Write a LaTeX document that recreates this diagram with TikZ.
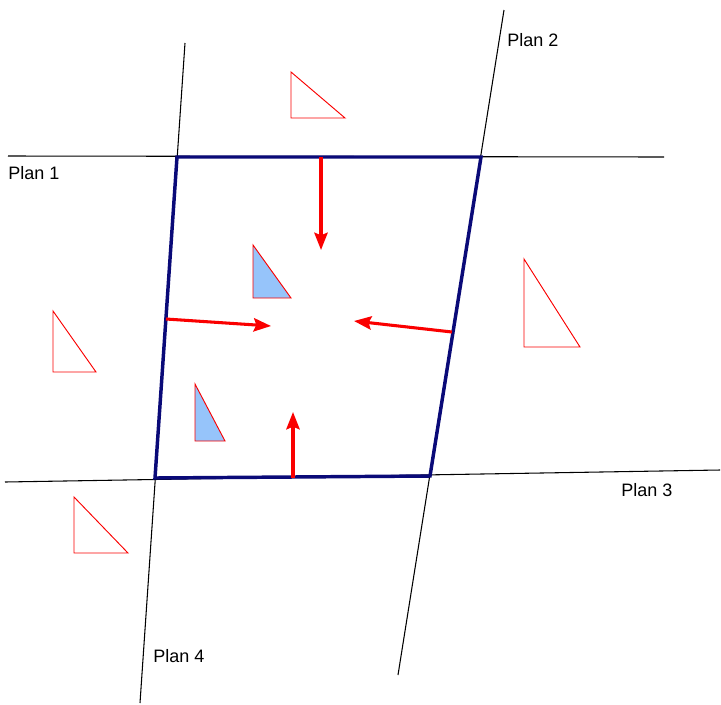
\documentclass[tikz,border=0pt]{standalone}
\usepackage{fontspec}
\setmainfont{Liberation Sans}
\usetikzlibrary{arrows.meta}
\definecolor{navyq}{RGB}{10,10,120}
\definecolor{lightfill}{RGB}{150,196,250}
\definecolor{redq}{RGB}{250,0,0}
\tikzset{
  planline/.style={black, line width=0.8pt},
  quad/.style={navyq, line width=2.6pt, line join=miter},
  push/.style={redq, line width=2.3pt, -{Stealth[length=13pt,width=10pt,inset=2pt]}},
  tri/.style={redq, line width=0.7pt},
  tribl/.style={redq, line width=0.7pt, fill=lightfill},
  lbl/.style={font=\fontsize{13.5pt}{15pt}\selectfont, text=black, inner sep=0pt}
}
\begin{document}
\begin{tikzpicture}[x=0.75pt,y=-0.75pt]
\useasboundingbox (0,0) rectangle (721,704);
% plan lines
\coordinate (p1a) at (8,156);   \coordinate (p1b) at (664,157);
\coordinate (p2a) at (504,10);  \coordinate (p2b) at (398,675);
\coordinate (p3a) at (5,482);   \coordinate (p3b) at (720,470);
\coordinate (p4a) at (185,43);  \coordinate (p4b) at (140,703);
\draw[planline] (p1a) -- (p1b);
\draw[planline] (p2a) -- (p2b);
\draw[planline] (p3a) -- (p3b);
\draw[planline] (p4a) -- (p4b);
% labels
\node[lbl, anchor=west] (l1) at (8,173) {Plan 1};
\node[lbl, anchor=west] (l2) at (507,40) {Plan 2};
\node[lbl, anchor=west] (l3) at (621,490) {Plan 3};
\node[lbl, anchor=west] (l4) at (153,656) {Plan 4};
% quadrilateral
\coordinate (qa) at (177,157);
\coordinate (qb) at (481,157);
\coordinate (qc) at (430,476);
\coordinate (qd) at (155,478);
\draw[quad] (qa) -- (qb) -- (qc) -- (qd) -- cycle;
% arrows
\coordinate (a1s) at (321,157); \coordinate (a1e) at (321,250);
\coordinate (a2s) at (166,319); \coordinate (a2e) at (271,326);
\coordinate (a3s) at (452,332); \coordinate (a3e) at (354,321);
\coordinate (a4s) at (293,478); \coordinate (a4e) at (293,412);
\draw[push] (a1s) -- (a1e);
\draw[push] (a2s) -- (a2e);
\draw[push] (a3s) -- (a3e);
\draw[push] (a4s) -- (a4e);
% triangles outside
\draw[tri] (291,72) -- (291,118) -- (345,118) -- cycle;
\draw[tri] (53,311) -- (53,372) -- (96,372) -- cycle;
\draw[tri] (524,259) -- (524,347) -- (580,347) -- cycle;
\draw[tri] (74,497) -- (74,553) -- (128,553) -- cycle;
% triangles inside
\draw[tribl] (253,245) -- (253,298) -- (291,298) -- cycle;
\draw[tribl] (195,384) -- (195,441) -- (225,441) -- cycle;
\end{tikzpicture}
\end{document}
